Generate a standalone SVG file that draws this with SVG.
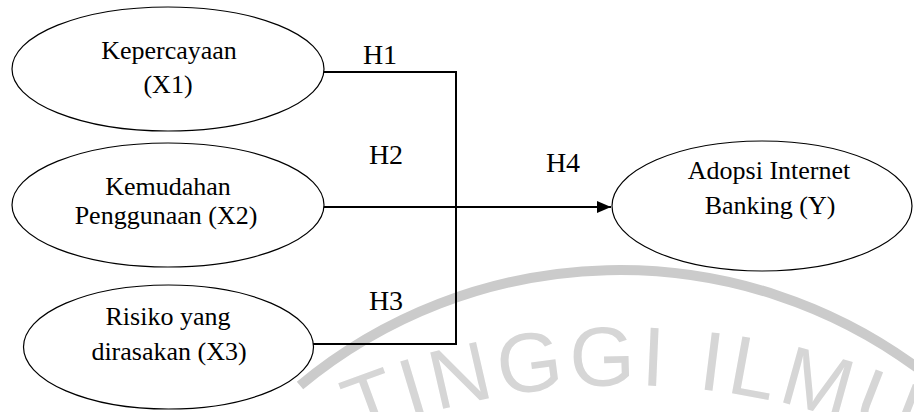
<svg xmlns="http://www.w3.org/2000/svg" width="914" height="412" viewBox="0 0 914 412">
  <style>
    .node { fill: #ffffff; stroke: #000000; stroke-width: 1.2; }
    .label { font-family: 'Liberation Serif', 'DejaVu Serif', serif; font-size: 26px; fill: #000000; text-anchor: middle; }
    .hyp { font-family: 'Liberation Serif', 'DejaVu Serif', serif; font-size: 28px; fill: #000000; text-anchor: middle; }
    .conn { fill: none; stroke: #000000; stroke-width: 2; }
    .wm-band { fill: none; stroke: #cbcbcb; stroke-width: 10; }
    .wm-text { font-family: 'Liberation Sans', Arial, sans-serif; font-size: 84px; fill: #d6d6d6; letter-spacing: 5px; text-anchor: middle; }
  </style>
  <defs>
    <marker id="arrow" markerUnits="userSpaceOnUse" markerWidth="14" markerHeight="12" refX="14" refY="6" orient="auto">
      <path d="M0,0 L14,6 L0,12 z" fill="#000000"/>
    </marker>
    <path id="wmArc" d="M -75,1085 A 700,700 0 0,1 1325,1085"/>
  </defs>

  <g id="watermark">
    <path class="wm-band" d="M300,385.5 A501,501 0 0,1 920,369.8"/>
    <text class="wm-text"><textPath href="#wmArc" startOffset="50.4%">TINGGI ILMU</textPath></text>
  </g>

  <g id="connectors">
    <path class="conn" d="M324,72 H456 V344 H313"/>
    <path class="conn" d="M324,207 H611" marker-end="url(#arrow)"/>
    <text class="hyp" x="380" y="64" font-family="Liberation Serif, DejaVu Serif, serif">H1</text>
    <text class="hyp" x="386" y="164" font-family="Liberation Serif, DejaVu Serif, serif">H2</text>
    <text class="hyp" x="386" y="310" font-family="Liberation Serif, DejaVu Serif, serif">H3</text>
    <text class="hyp" x="563" y="172" font-family="Liberation Serif, DejaVu Serif, serif">H4</text>
  </g>

  <g id="x1">
    <ellipse class="node" cx="168" cy="69" rx="156" ry="62"/>
    <text class="label" x="169" y="59">Kepercayaan</text>
    <text class="label" x="168" y="93">(X1)</text>
  </g>

  <g id="x2">
    <ellipse class="node" cx="168" cy="205" rx="156" ry="62"/>
    <text class="label" x="168" y="195">Kemudahan</text>
    <text class="label" x="166" y="224">Penggunaan (X2)</text>
  </g>

  <g id="x3">
    <ellipse class="node" cx="168.5" cy="347" rx="145" ry="62"/>
    <text class="label" x="168" y="325">Risiko yang</text>
    <text class="label" x="169" y="360">dirasakan (X3)</text>
  </g>

  <g id="y">
    <ellipse class="node" cx="762" cy="206" rx="150" ry="65"/>
    <text class="label" x="769" y="179">Adopsi Internet</text>
    <text class="label" x="770" y="214">Banking (Y)</text>
  </g>
</svg>
